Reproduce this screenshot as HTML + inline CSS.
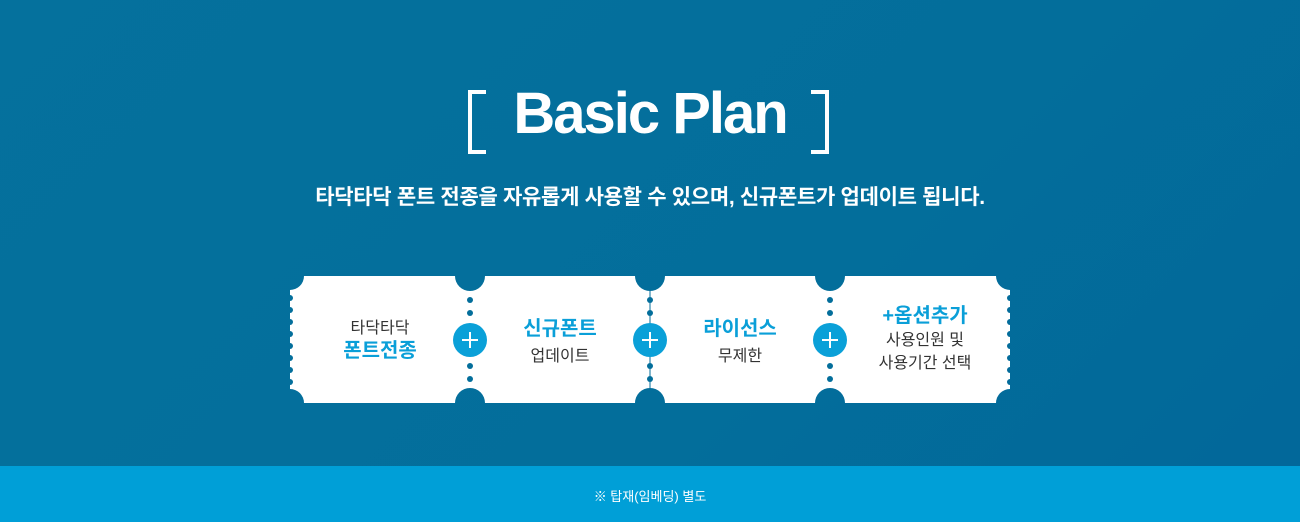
<!DOCTYPE html>
<html><head><meta charset="utf-8"><style>
html,body{margin:0;padding:0}
body{width:1300px;height:522px;overflow:hidden;position:relative;background:linear-gradient(135deg,#05719d 0%,#036e9b 60%,#02679a 100%);font-family:"Liberation Sans","Noto Sans CJK KR",sans-serif}
.t{position:absolute;text-align:center;white-space:nowrap}
</style></head><body>
<svg width="1300" height="522" style="position:absolute;left:0;top:0">
<defs>
<mask id="m">
<rect x="290" y="276" width="720" height="127" fill="#fff"/>
<g fill="#000">
<circle cx="290" cy="276" r="14"/><circle cx="290" cy="403" r="14"/>
<circle cx="1010" cy="276" r="14"/><circle cx="1010" cy="403" r="14"/>
<circle cx="470" cy="276" r="15"/><circle cx="470" cy="403" r="15"/>
<circle cx="650" cy="276" r="15"/><circle cx="650" cy="403" r="15"/>
<circle cx="830" cy="276" r="15"/><circle cx="830" cy="403" r="15"/>
<circle cx="290" cy="298" r="3"/><circle cx="290" cy="310" r="3"/><circle cx="290" cy="322" r="3"/><circle cx="290" cy="334" r="3"/><circle cx="290" cy="346" r="3"/><circle cx="290" cy="358" r="3"/><circle cx="290" cy="370" r="3"/><circle cx="290" cy="382" r="3"/>
<circle cx="1010" cy="298" r="3"/><circle cx="1010" cy="310" r="3"/><circle cx="1010" cy="322" r="3"/><circle cx="1010" cy="334" r="3"/><circle cx="1010" cy="346" r="3"/><circle cx="1010" cy="358" r="3"/><circle cx="1010" cy="370" r="3"/><circle cx="1010" cy="382" r="3"/>
</g>
</mask>
</defs>
<g fill="none" stroke="#fff" stroke-width="4">
<polyline points="486,92 470,92 470,152 486,152"/>
<polyline points="811,92 827,92 827,152 811,152"/>
</g>
<rect x="290" y="276" width="720" height="127" fill="#fff" mask="url(#m)"/>
<g fill="#036e9b">
<circle cx="470" cy="300" r="3"/><circle cx="470" cy="313" r="3"/><circle cx="470" cy="366" r="3"/><circle cx="470" cy="379" r="3"/>
<circle cx="650" cy="300" r="3"/><circle cx="650" cy="313" r="3"/><circle cx="650" cy="366" r="3"/><circle cx="650" cy="379" r="3"/>
<circle cx="830" cy="300" r="3"/><circle cx="830" cy="313" r="3"/><circle cx="830" cy="366" r="3"/><circle cx="830" cy="379" r="3"/>
</g>
<line x1="650" y1="290" x2="650" y2="390" stroke="#036e9b" stroke-width="1"/>
<g fill="#0aa0d8"><circle cx="470" cy="340" r="17"/><circle cx="650" cy="340" r="17"/><circle cx="830" cy="340" r="17"/></g>
<g stroke="#fff" stroke-width="2"><path d="M462 340h16M470 332v16M642 340h16M650 332v16M822 340h16M830 332v16"/></g>
<rect x="0" y="466" width="1300" height="56" fill="#009fd7"/>
</svg>
<div class="t" style="left:0;width:1300px;top:80px;font-size:58px;font-weight:bold;color:#fff;letter-spacing:-2px">Basic Plan</div>
<div class="t" style="left:0;width:1300px;top:181px;font-size:21px;font-weight:bold;color:#fff;letter-spacing:-0.3px">타닥타닥 폰트 전종을 자유롭게 사용할 수 있으며, 신규폰트가 업데이트 됩니다.</div>
<div class="t" style="left:300px;width:160px;top:318px;font-size:16px;color:#333;line-height:22px">타닥타닥<br><span style="color:#0a9fd8;font-size:20px;font-weight:bold">폰트전종</span></div>
<div class="t" style="left:480px;width:160px;top:316px;font-size:16px;color:#333;line-height:26px"><span style="color:#0a9fd8;font-size:20px;font-weight:bold">신규폰트</span><br>업데이트</div>
<div class="t" style="left:660px;width:160px;top:316px;font-size:16px;color:#333;line-height:26px"><span style="color:#0a9fd8;font-size:20px;font-weight:bold">라이선스</span><br>무제한</div>
<div class="t" style="left:845px;width:160px;top:305px;font-size:16px;color:#333;line-height:23px"><span style="color:#0a9fd8;font-size:20px;font-weight:bold">+옵션추가</span><br>사용인원 및<br>사용기간 선택</div>
<div class="t" style="left:0;width:1300px;top:486px;font-size:13px;color:#fff">※ 탑재(임베딩) 별도</div>
</body></html>
